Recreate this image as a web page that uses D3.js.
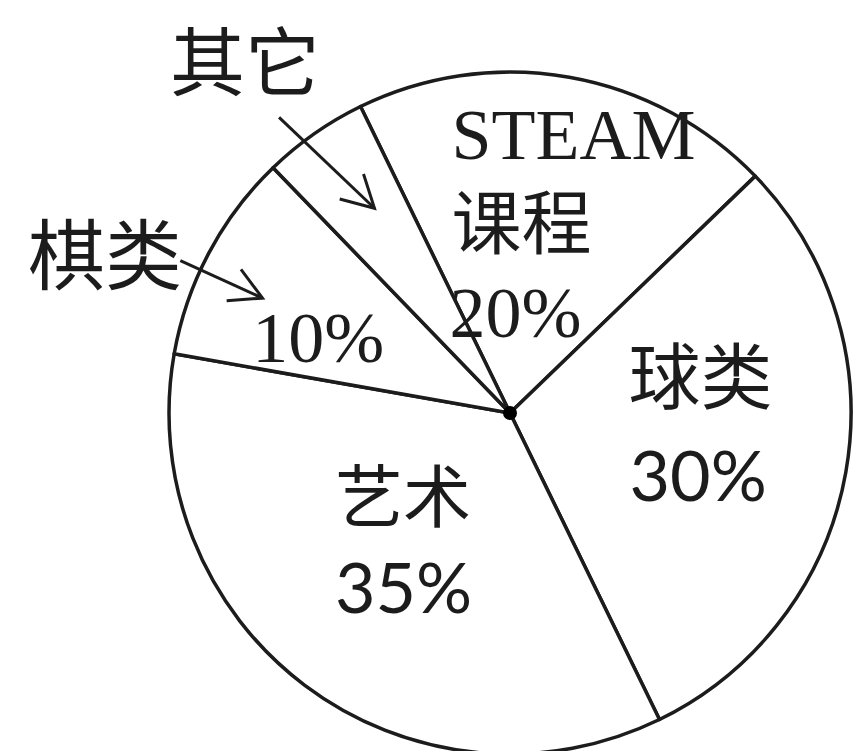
<!DOCTYPE html>
<html><head><meta charset="utf-8">
<script src="https://cdn.jsdelivr.net/npm/d3@7"></script>
<style>html,body{margin:0;padding:0;background:#fff;}</style>
</head><body>
<svg id="c" width="855" height="751"></svg>
<script>
// Data
const categories = ["STEAM课程", "球类", "艺术", "棋类", "其它"];
const percents = [20, 30, 35, 10, 5];

const W = 855, H = 751;
const cx = 510, cy = 413, R = 341;
const startDeg = -26;
const serif = "'Liberation Serif','Times New Roman',serif";
const cjk = "'Noto Sans CJK SC','Noto Sans',sans-serif";
const sans = "Lato,'Open Sans',sans-serif";
const ink = "#1c1c1c";

const svg = d3.select("#c");
svg.append("rect").attr("width", W).attr("height", H).attr("fill", "#fff");

const g = svg.append("g").attr("transform", `translate(${cx},${cy})`);
const data = categories.map((c, i) => ({ name: c, value: percents[i] }));
const pie = d3.pie().value(d => d.value).sort(null)
  .startAngle(startDeg * Math.PI / 180).endAngle(startDeg * Math.PI / 180 + 2 * Math.PI);
const arcs = pie(data);
const arc = d3.arc().innerRadius(0).outerRadius(R);

g.selectAll("path.slice").data(arcs).join("path")
  .attr("class", "slice").attr("d", arc)
  .attr("fill", "#fff").attr("stroke", ink).attr("stroke-width", 3.5).attr("stroke-linejoin", "round");

g.append("circle").attr("r", 7).attr("fill", "#000");

// label helpers
const labelArc = d3.arc().innerRadius(R * 0.6).outerRadius(R * 0.6);
const pct = v => v + "%";

// label layout: offsets relative to centroid (line: [text, font, size, dx, dy])
const layout = {
  "STEAM课程": [["STEAM", serif, 72, -94, -53], ["课程", cjk, 70, -94, 37], ["%", serif, 72, -96, 125]],
  "球类": [["球类", cjk, 72, -83, -46], ["%", sans, 70, -82, 52]],
  "艺术": [["艺术", cjk, 68, -52, -54], ["%", sans, 70, -52, 37]],
  "棋类": [["%", serif, 72, -77, 45]]
};

arcs.forEach(a => {
  const lines = layout[a.data.name];
  if (!lines) return;
  const [x0, y0] = labelArc.centroid(a);
  lines.forEach(([t, f, s, dx, dy]) => {
    g.append("text").attr("x", x0 + dx).attr("y", y0 + dy)
      .attr("font-family", f).attr("font-size", s).attr("fill", ink)
      .text(t === "%" ? pct(a.data.value) : t);
  });
});

// polar helper
const polar = (deg, r) => [Math.sin(deg * Math.PI / 180) * r, -Math.cos(deg * Math.PI / 180) * r];

function arrow(from, to) {
  const [x1, y1] = from, [x2, y2] = to;
  g.append("line").attr("x1", x1).attr("y1", y1).attr("x2", x2).attr("y2", y2)
    .attr("stroke", ink).attr("stroke-width", 3);
  const ang = Math.atan2(y2 - y1, x2 - x1);
  const L = 36, sp = 0.5;
  const p1 = [x2 - L * Math.cos(ang - sp), y2 - L * Math.sin(ang - sp)];
  const p2 = [x2 - L * Math.cos(ang + sp), y2 - L * Math.sin(ang + sp)];
  g.append("path").attr("d", `M${p1[0]},${p1[1]}L${x2},${y2}L${p2[0]},${p2[1]}`)
    .attr("fill", "none").attr("stroke", ink).attr("stroke-width", 3);
}

// outside callouts for small slices
const other = arcs.find(a => a.data.name === "其它");
const chess = arcs.find(a => a.data.name === "棋类");
const midDeg = a => ((a.startAngle + a.endAngle) / 2) * 180 / Math.PI;

arrow(polar(midDeg(other) - 3, R * 1.1), polar(midDeg(other) + 1.5, R * 0.72));
arrow(polar(midDeg(chess) - 3.2, R * 1.065), polar(midDeg(chess) - 3.1, R * 0.80));

svg.append("text").attr("x", 170).attr("y", 90)
  .attr("font-family", cjk).attr("font-size", 75).attr("fill", ink).text("其它");
svg.append("text").attr("x", 28).attr("y", 284)
  .attr("font-family", cjk).attr("font-size", 77).attr("fill", ink).text("棋类");
</script>
</body></html>
